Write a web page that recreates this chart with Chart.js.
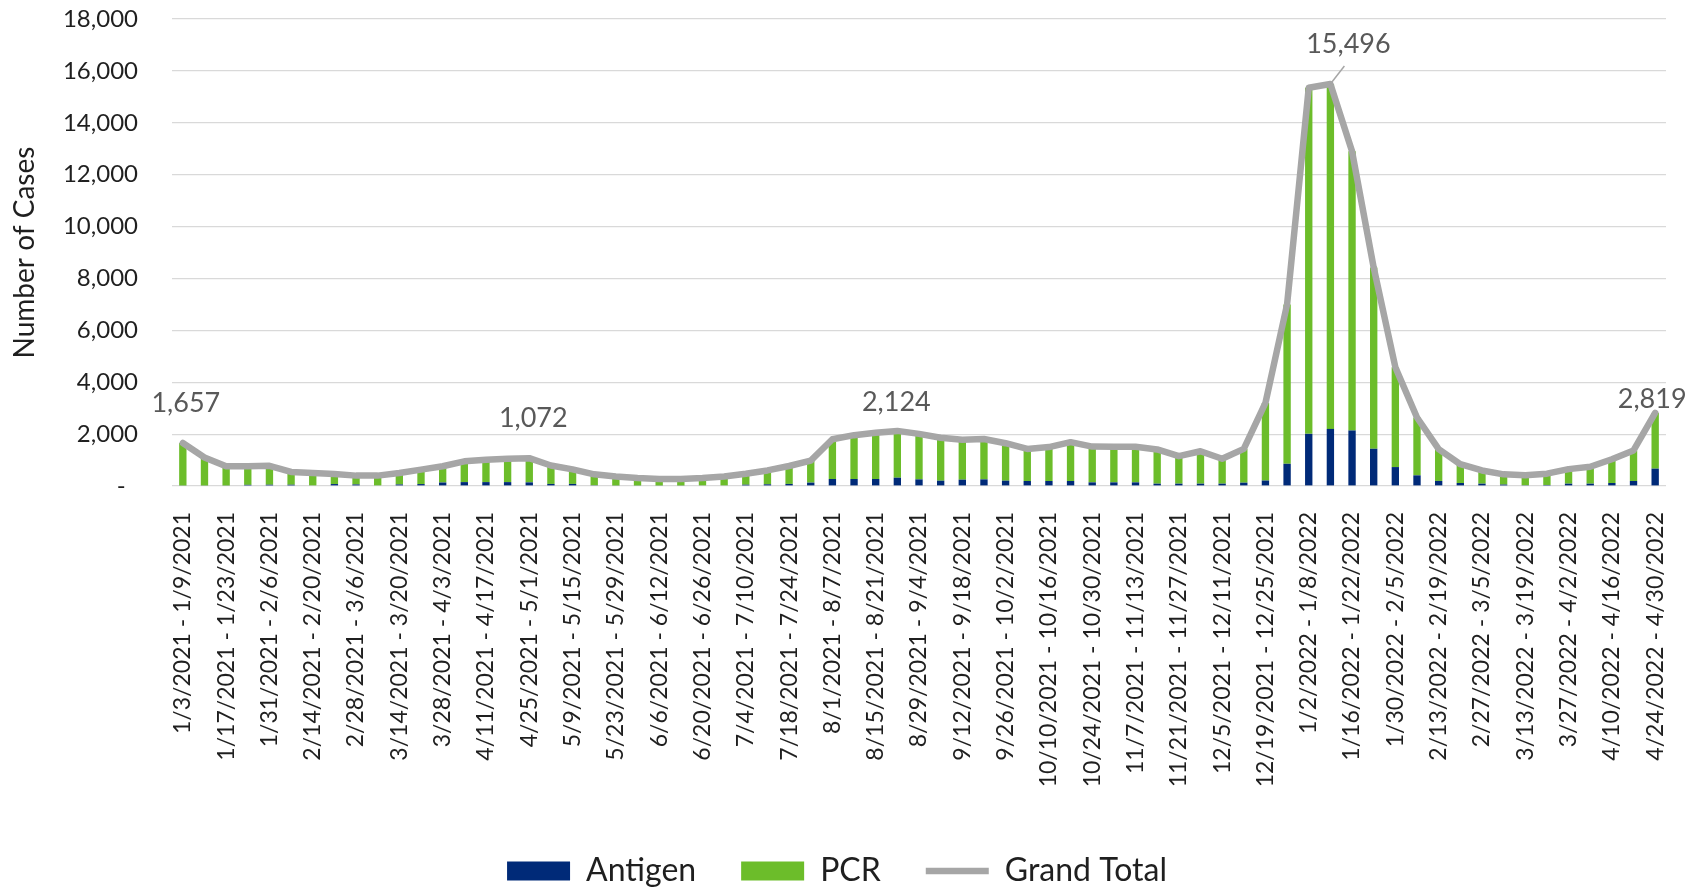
<!DOCTYPE html>
<html lang="en">
<head>
  <meta charset="UTF-8">
  <title>Weekly Cases by Test Type</title>
  <script src="https://cdn.jsdelivr.net/npm/chart.js"></script>
  <style>
    html, body { margin: 0; padding: 0; background: #ffffff; }
    #wrap { width: 1705px; height: 888px; }
  </style>
</head>
<body>
  <div id="wrap"><canvas id="casesChart" width="1705" height="888"></canvas></div>

  <script>
    // weekly periods, 1/3/2021 through 4/30/2022
    const weeks = [
      "1/3/2021 - 1/9/2021", "1/10/2021 - 1/16/2021", "1/17/2021 - 1/23/2021", "1/24/2021 - 1/30/2021",
      "1/31/2021 - 2/6/2021", "2/7/2021 - 2/13/2021", "2/14/2021 - 2/20/2021", "2/21/2021 - 2/27/2021",
      "2/28/2021 - 3/6/2021", "3/7/2021 - 3/13/2021", "3/14/2021 - 3/20/2021", "3/21/2021 - 3/27/2021",
      "3/28/2021 - 4/3/2021", "4/4/2021 - 4/10/2021", "4/11/2021 - 4/17/2021", "4/18/2021 - 4/24/2021",
      "4/25/2021 - 5/1/2021", "5/2/2021 - 5/8/2021", "5/9/2021 - 5/15/2021", "5/16/2021 - 5/22/2021",
      "5/23/2021 - 5/29/2021", "5/30/2021 - 6/5/2021", "6/6/2021 - 6/12/2021", "6/13/2021 - 6/19/2021",
      "6/20/2021 - 6/26/2021", "6/27/2021 - 7/3/2021", "7/4/2021 - 7/10/2021", "7/11/2021 - 7/17/2021",
      "7/18/2021 - 7/24/2021", "7/25/2021 - 7/31/2021", "8/1/2021 - 8/7/2021", "8/8/2021 - 8/14/2021",
      "8/15/2021 - 8/21/2021", "8/22/2021 - 8/28/2021", "8/29/2021 - 9/4/2021", "9/5/2021 - 9/11/2021",
      "9/12/2021 - 9/18/2021", "9/19/2021 - 9/25/2021", "9/26/2021 - 10/2/2021", "10/3/2021 - 10/9/2021",
      "10/10/2021 - 10/16/2021", "10/17/2021 - 10/23/2021", "10/24/2021 - 10/30/2021", "10/31/2021 - 11/6/2021",
      "11/7/2021 - 11/13/2021", "11/14/2021 - 11/20/2021", "11/21/2021 - 11/27/2021", "11/28/2021 - 12/4/2021",
      "12/5/2021 - 12/11/2021", "12/12/2021 - 12/18/2021", "12/19/2021 - 12/25/2021", "12/26/2021 - 1/1/2022",
      "1/2/2022 - 1/8/2022", "1/9/2022 - 1/15/2022", "1/16/2022 - 1/22/2022", "1/23/2022 - 1/29/2022",
      "1/30/2022 - 2/5/2022", "2/6/2022 - 2/12/2022", "2/13/2022 - 2/19/2022", "2/20/2022 - 2/26/2022",
      "2/27/2022 - 3/5/2022", "3/6/2022 - 3/12/2022", "3/13/2022 - 3/19/2022", "3/20/2022 - 3/26/2022",
      "3/27/2022 - 4/2/2022", "4/3/2022 - 4/9/2022", "4/10/2022 - 4/16/2022", "4/17/2022 - 4/23/2022",
      "4/24/2022 - 4/30/2022"
    ];

    const antigen = [
      20, 20, 20, 45, 50, 50, 25, 75, 60, 25, 60, 75, 135, 150, 150, 150, 140, 80, 80, 30,
      20, 20, 20, 20, 25, 25, 50, 65, 80, 130, 270, 270, 270, 320, 255, 205, 245, 255, 205, 192,
      192, 192, 140, 140, 140, 90, 90, 90, 90, 128, 210, 856, 2010, 2200, 2140, 1435, 730, 410, 195, 115,
      90, 55, 30, 40, 90, 90, 115, 193, 669
    ];

    const pcr = [
      1637, 1080, 740, 715, 730, 490, 475, 385, 340, 375, 440, 555, 625, 800, 860, 900, 932, 710, 560, 420,
      350, 290, 250, 250, 285, 345, 425, 535, 690, 850, 1530, 1690, 1780, 1804, 1755, 1655, 1535, 1555, 1445, 1238,
      1308, 1498, 1380, 1370, 1370, 1320, 1060, 1250, 960, 1302, 2990, 6144, 13340, 13296, 10760, 6985, 3850, 2230, 1225, 725,
      510, 395, 380, 435, 560, 650, 915, 1177, 2150
    ];

    const grandTotal = [
      1657, 1100, 760, 760, 780, 540, 500, 460, 400, 400, 500, 630, 760, 950, 1010, 1050, 1072, 790, 640, 450,
      370, 310, 270, 270, 310, 370, 475, 600, 770, 980, 1800, 1960, 2050, 2124, 2010, 1860, 1780, 1810, 1650, 1430,
      1500, 1690, 1520, 1510, 1510, 1410, 1150, 1340, 1050, 1430, 3200, 7000, 15350, 15496, 12900, 8420, 4580, 2640, 1420, 840,
      600, 450, 410, 475, 650, 740, 1030, 1370, 2819
    ];

    // weeks whose total gets a printed label
    const labelledWeeks = [0, 16, 33, 53, 68];

    Chart.defaults.font.family = "Lato, 'Noto Sans', sans-serif";

    const fmt = v => v.toLocaleString("en-US");

    // label placement relative to the point (px), plus a leader for the peak
    const labelOffsets = { 0: [3, -40], 16: [4, -40], 33: [-1, -29], 53: [18, -40], 68: [-3, -14] };
    const leaderIdx = 53;

    const totalLabels = {
      id: "totalLabels",
      afterDatasetsDraw(chart) {
        const ctx = chart.ctx;
        const meta = chart.getDatasetMeta(2);
        ctx.save();
        ctx.font = "27px Lato, 'Noto Sans', sans-serif";
        ctx.fillStyle = "#595959";
        ctx.textAlign = "center";
        ctx.textBaseline = "middle";
        labelledWeeks.forEach(i => {
          const pt = meta.data[i];
          const off = labelOffsets[i];
          const tx = pt.x + off[0], ty = pt.y + off[1];
          if (i === leaderIdx) {
            ctx.strokeStyle = "#a6a6a6";
            ctx.lineWidth = 1.5;
            ctx.beginPath();
            ctx.moveTo(pt.x, pt.y);
            ctx.lineTo(tx - 4, ty + 22);
            ctx.stroke();
          }
          ctx.fillText(fmt(grandTotal[i]), tx, ty);
        });
        ctx.restore();
      }
    };

    const ctx = document.getElementById("casesChart").getContext("2d");
    new Chart(ctx, {
      type: "bar",
      data: {
        labels: weeks,
        datasets: [
          {
            label: "Antigen",
            data: antigen,
            backgroundColor: "#002a78",
            stack: "tests",
            order: 2,
            pointStyle: "rect",
            borderWidth: 0
          },
          {
            label: "PCR",
            data: pcr,
            backgroundColor: "#6cbd2a",
            stack: "tests",
            order: 2,
            pointStyle: "rect",
            borderWidth: 0
          },
          {
            type: "line",
            label: "Grand Total",
            data: grandTotal,
            borderColor: "#a6a6a6",
            backgroundColor: "#a6a6a6",
            borderWidth: 6.5,
            borderJoinStyle: "round",
            borderCapStyle: "round",
            pointRadius: 0,
            pointHoverRadius: 0,
            pointStyle: "line",
            tension: 0,
            order: 0
          }
        ]
      },
      options: {
        responsive: false,
        animation: false,
        layout: { padding: { top: 19, left: 8, right: 39, bottom: 0 } },
        datasets: { bar: { categoryPercentage: 0.34, barPercentage: 1 } },
        scales: {
          x: {
            stacked: true,
            grid: { display: false, drawTicks: false },
            border: { display: false },
            afterFit: s => { s.height = 324; s.paddingLeft = 0; s.paddingRight = 0; },
            ticks: {
              autoSkip: false,
              minRotation: 90,
              maxRotation: 90,
              padding: 26,
              color: "#1f1f1f",
              font: { size: 23 },
              callback: function (value, index) {
                return index % 2 === 0 ? this.getLabelForValue(value) : "";
              }
            }
          },
          y: {
            stacked: true,
            min: 0,
            max: 18000,
            afterFit: s => { s.width = 164; s.paddingTop = 0; s.paddingBottom = 0; },
            grid: { color: "#d9d9d9", lineWidth: 1.2, drawTicks: false },
            border: { display: false },
            ticks: {
              stepSize: 2000,
              padding: 34,
              color: "#1f1f1f",
              font: { size: 24 },
              callback: v => (v === 0 ? "-  " : fmt(v))
            },
            title: {
              display: true,
              text: "Number of Cases",
              color: "#1f1f1f",
              font: { size: 28 },
              padding: { top: 0, bottom: 0 }
            }
          }
        },
        plugins: {
          legend: {
            position: "bottom",
            maxHeight: 78,
            labels: {
              usePointStyle: true,
              pointStyleWidth: 63,
              boxHeight: 19,
              padding: 45,
              color: "#1f1f1f",
              font: { size: 32 },
              sort: (a, b) => a.datasetIndex - b.datasetIndex
            }
          },
          tooltip: { enabled: false }
        }
      },
      plugins: [totalLabels]
    });
  </script>
</body>
</html>
